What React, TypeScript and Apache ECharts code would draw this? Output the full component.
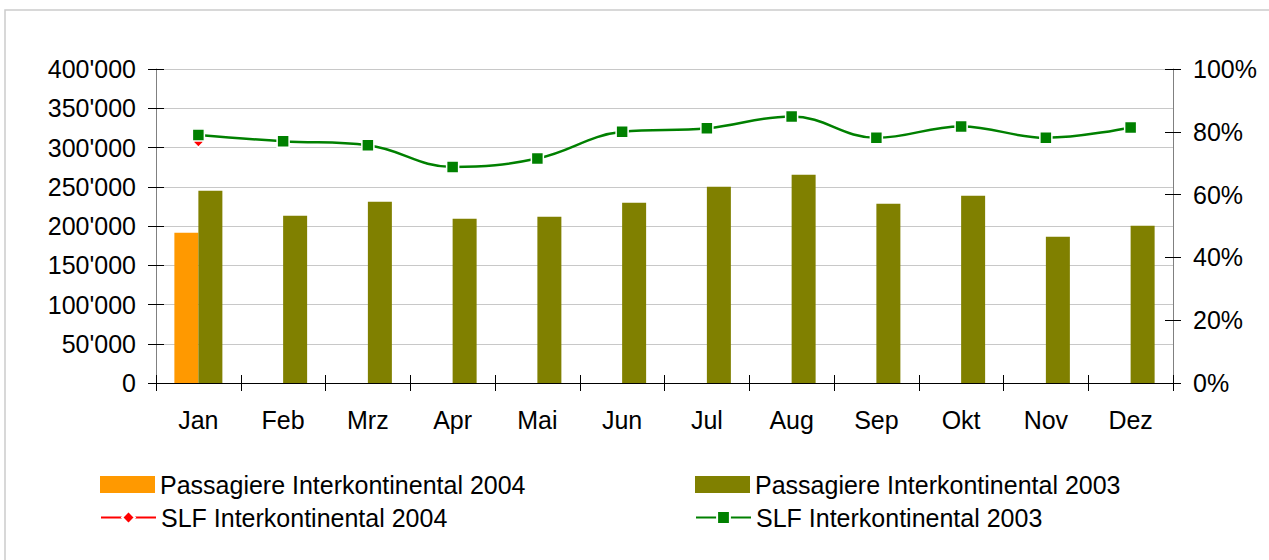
import React, { useEffect, useRef } from "react";
import * as echarts from "echarts";

const categories = ["Jan", "Feb", "Mrz", "Apr", "Mai", "Jun", "Jul", "Aug", "Sep", "Okt", "Nov", "Dez"];
const pax2004: (number | null)[] = [191500, null, null, null, null, null, null, null, null, null, null, null];
const pax2003 = [245000, 213200, 231000, 209300, 211900, 229700, 250100, 265400, 228400, 238600, 186400, 200400];
const slf2004: (number | null)[] = [76.8, null, null, null, null, null, null, null, null, null, null, null];
const slf2003 = [79.0, 77.0, 75.7, 68.8, 71.5, 80.0, 81.1, 84.9, 78.1, 81.7, 78.1, 81.4];

const names = [
  "Passagiere Interkontinental 2004",
  "Passagiere Interkontinental 2003",
  "SLF Interkontinental 2004",
  "SLF Interkontinental 2003",
];

const FONT = "'Liberation Sans', Arial, sans-serif";
const FS = 25;

function fmtThousands(v: number): string {
  return String(v).replace(/\B(?=(\d{3})+(?!\d))/g, "'");
}

export default function App() {
  const ref = useRef<HTMLDivElement>(null);
  useEffect(() => {
    if (!ref.current) return;
    const chart = echarts.init(ref.current, undefined, { renderer: "svg" });
    const legendBase = {
      orient: "horizontal",
      padding: 0,
      itemWidth: 55,
      textStyle: { fontSize: FS, color: "#000", fontFamily: FONT },
      selectedMode: false,
    };
    chart.setOption({
      animation: false,
      backgroundColor: "#fff",
      textStyle: { fontFamily: FONT },
      graphic: [
        {
          type: "rect",
          shape: { x: 5, y: 10, width: 1300, height: 600 },
          style: { fill: "none", stroke: "#cccccc", lineWidth: 1.5 },
          silent: true,
        },
      ],
      grid: { left: 156, right: 96, top: 69, bottom: 177, containLabel: false },
      legend: [
        { ...legendBase, data: [{ name: names[0], icon: "rect" }], left: 100, top: 472, itemHeight: 17 },
        { ...legendBase, data: [{ name: names[1], icon: "rect" }], left: 695, top: 472, itemHeight: 17 },
        { ...legendBase, data: [names[2]], left: 100, top: 505, itemHeight: 16 },
        { ...legendBase, data: [names[3]], left: 695, top: 505, itemHeight: 16 },
      ],
      xAxis: [
        {
          type: "category",
          data: categories,
          position: "bottom",
          axisLine: { show: true, lineStyle: { color: "#000", width: 1 } },
          axisTick: { show: true, inside: false, length: 8, lineStyle: { color: "#000" } },
          axisLabel: { fontSize: FS, color: "#000", margin: 24, fontFamily: FONT },
          splitLine: { show: false },
        },
        {
          type: "category",
          data: categories,
          position: "bottom",
          axisLine: { show: false },
          axisTick: { show: true, inside: true, length: 8, lineStyle: { color: "#000" } },
          axisLabel: { show: false },
          splitLine: { show: false },
        },
      ],
      yAxis: [
        {
          type: "value",
          position: "left",
          min: 0,
          max: 400000,
          interval: 50000,
          axisLine: { show: true, lineStyle: { color: "#808080", width: 1 } },
          axisTick: { show: true, inside: false, length: 8, lineStyle: { color: "#000" } },
          axisLabel: { fontSize: FS, color: "#000", margin: 20, fontFamily: FONT, formatter: (v: number) => fmtThousands(v) },
          splitLine: { show: true, lineStyle: { color: "#c8c8c8", width: 1 } },
        },
        {
          type: "value",
          position: "right",
          min: 0,
          max: 100,
          interval: 20,
          axisLine: { show: true, lineStyle: { color: "#808080", width: 1 } },
          axisTick: { show: true, inside: false, length: 8, lineStyle: { color: "#000" } },
          axisLabel: { fontSize: FS, color: "#000", margin: 20, fontFamily: FONT, formatter: (v: number) => v + "%" },
          splitLine: { show: false },
        },
        {
          type: "value",
          position: "left",
          min: 0,
          max: 400000,
          interval: 50000,
          axisLine: { show: false },
          axisTick: { show: true, inside: true, length: 8, lineStyle: { color: "#000" } },
          axisLabel: { show: false },
          splitLine: { show: false },
        },
        {
          type: "value",
          position: "right",
          min: 0,
          max: 100,
          interval: 20,
          axisLine: { show: false },
          axisTick: { show: true, inside: true, length: 8, lineStyle: { color: "#000" } },
          axisLabel: { show: false },
          splitLine: { show: false },
        },
      ],
      series: [
        {
          name: names[0],
          type: "bar",
          xAxisIndex: 0,
          yAxisIndex: 0,
          data: pax2004,
          barWidth: 24,
          barGap: "0%",
          itemStyle: { color: "#FF9900" },
        },
        {
          name: names[1],
          type: "bar",
          xAxisIndex: 0,
          yAxisIndex: 0,
          data: pax2003,
          barWidth: 24,
          barGap: "0%",
          itemStyle: { color: "#808000" },
        },
        {
          name: names[2],
          type: "line",
          xAxisIndex: 0,
          yAxisIndex: 1,
          data: slf2004,
          symbol: "diamond",
          symbolSize: 11,
          showAllSymbol: true,
          lineStyle: { color: "#FF0000", width: 2.5 },
          itemStyle: { color: "#FF0000", borderColor: "#fff", borderWidth: 1.5 },
        },
        {
          name: names[3],
          type: "line",
          xAxisIndex: 0,
          yAxisIndex: 1,
          data: slf2003,
          smooth: 0.4,
          symbol: "rect",
          symbolSize: 12,
          showAllSymbol: true,
          lineStyle: { color: "#008000", width: 2.5 },
          itemStyle: { color: "#008000", borderColor: "#fff", borderWidth: 1.5 },
        },
      ],
    });
    return () => chart.dispose();
  }, []);
  return <div ref={ref} style={{ position: "absolute", left: 0, top: 0, width: 1269, height: 560 }} />;
}
